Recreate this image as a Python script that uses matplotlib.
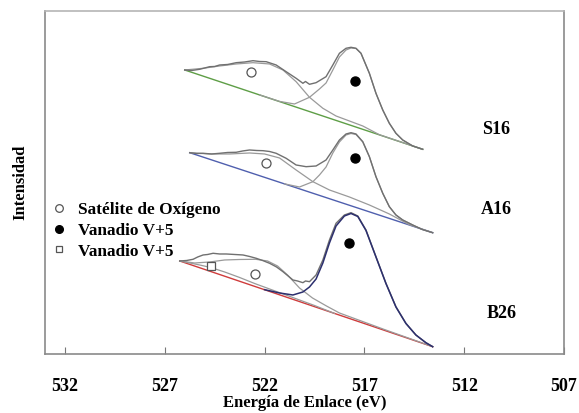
#Import
import matplotlib
matplotlib.use("Agg")
import matplotlib.pyplot as plt
from matplotlib.lines import Line2D

plt.rcParams['font.family'] = ['Liberation Serif', 'DejaVu Serif']
plt.rcParams['font.weight'] = 'bold'

# ---- S16 (top) ----
s16_exp_x = [526.00, 525.65, 525.25, 525.00, 524.75, 524.50, 524.25, 523.85, 523.42, 523.00,
             522.58, 522.25, 521.92, 521.42, 520.92, 520.42, 520.08, 519.95, 519.75, 519.42,
             518.92, 518.58, 518.25, 517.92, 517.67, 517.42, 517.17, 516.75, 516.42, 516.08,
             515.75, 515.42, 515.08, 514.58, 514.08]
s16_exp_y = [284, 283.5, 284.7, 286, 287.3, 287.5, 289, 289.5, 291.3, 292,
             293.3, 292.5, 292.3, 289, 282.3, 275.7, 270.7, 272.5, 269.7, 271.3,
             277.3, 289, 300.7, 305.7, 306.7, 305.7, 300.7, 280.7, 260.7, 244,
             230.7, 220.7, 214, 208, 204.7]
s16_sat_x = [526.00, 525.08, 524.25, 523.42, 522.58, 521.75, 521.08, 520.42, 519.75, 519.08,
             518.42, 517.75, 517.08, 516.25, 514.08]
s16_sat_y = [284, 285.7, 288, 290, 291.3, 290, 284, 272.3, 256.7, 245.7,
             238, 233, 228, 219.3, 204.7]
s16_v5_x = [522.25, 521.25, 520.50, 519.75, 519.25, 518.92, 518.58, 518.25, 517.92, 517.67,
            517.42, 517.17, 516.75, 516.42, 516.08, 515.75, 515.42, 515.08, 514.58, 514.08]
s16_v5_y = [259.1, 252.6, 250, 256.7, 265, 271, 284, 297, 304, 306,
            305.5, 300.7, 280.7, 260.7, 244, 230.7, 220.7, 214, 208, 204.7]
s16_base_x = [526.00, 514.08]
s16_base_y = [284, 204.7]

# ---- A16 (middle) ----
a16_exp_x = [525.75, 525.40, 525.08, 524.65, 524.25, 523.85, 523.42, 523.10, 522.75, 522.40,
             522.08, 521.75, 521.42, 520.92, 520.42, 519.92, 519.42, 518.92, 518.58, 518.25,
             517.92, 517.67, 517.42, 517.08, 516.75, 516.42, 516.08, 515.75, 515.42, 515.08,
             514.58, 514.10, 513.58]
a16_exp_y = [201.3, 200.5, 200.7, 200, 200.7, 201.5, 201.7, 203, 204, 203.5,
             203.3, 202.5, 200.7, 195.7, 189, 187.3, 188, 194, 204, 214,
             220, 221.3, 220, 212.3, 197.3, 177.3, 160.7, 147.3, 139, 134,
             129, 124.5, 121.3]
a16_sat_x = [525.75, 524.75, 523.75, 522.75, 522.00, 521.25, 520.42, 519.58, 518.75, 517.75,
             516.75, 515.75, 514.75, 513.58]
a16_sat_y = [201.3, 200, 200, 201, 200, 196, 184, 172.3, 164, 157,
             149, 140, 129.3, 121.3]
a16_v5_x = [521.00, 520.25, 519.58, 519.25, 518.92, 518.58, 518.25, 517.92, 517.67, 517.42,
            517.08, 516.75, 516.42, 516.08, 515.75, 515.42, 515.08, 514.58, 514.10, 513.58]
a16_v5_y = [170.1, 167, 172.3, 179, 187, 201, 212, 219, 220.5, 219.5,
            212, 197.3, 177.3, 160.7, 147.3, 139, 134, 129, 124.5, 121.3]
a16_base_x = [525.75, 513.58]
a16_base_y = [201.3, 121.3]

# ---- B26 (bottom) ----
b26_exp_x = [526.25, 525.90, 525.58, 525.35, 525.08, 524.85, 524.58, 524.25, 523.92, 523.50,
             523.08, 522.75, 522.42, 522.10, 521.75, 521.40, 521.08, 520.85, 520.58, 520.35,
             520.08, 519.95, 519.75, 519.42, 519.08, 518.75, 518.42, 518.00, 517.67, 517.33,
             516.92, 516.42, 515.92, 515.42, 514.92, 514.42, 513.92, 513.58]
b26_exp_y = [93, 93.5, 94.7, 97, 99, 99.5, 100.7, 100, 100, 99.5,
             99, 97.5, 95.7, 93.5, 90.7, 87, 82.3, 78.5, 74, 73,
             71.3, 73, 72.3, 79, 94, 114, 130.7, 139, 141.3, 138,
             124, 97.3, 70.7, 47.3, 30.7, 19, 11.3, 7.3]
b26_sq_x = [526.25, 525.75, 525.25, 524.70, 524.00, 523.25, 522.50, 521.75, 521.00, 520.25,
            519.50, 518.50]
b26_sq_y = [93, 91, 89, 86.5, 82, 76.5, 70.5, 65, 59.5, 54,
            48.5, 40.6]
b26_sat_x = [526.25, 525.50, 524.75, 524.00, 523.25, 522.45, 521.85, 521.35, 520.85, 520.25,
             519.60, 518.90, 518.25, 517.50, 516.75, 516.00, 513.58]
b26_sat_y = [93, 91, 92, 94, 94.5, 94.7, 93, 88, 79, 66,
             56, 48, 41, 35.5, 30, 24.5, 7.3]
b26_v5_x = [522.00, 521.25, 520.58, 520.08, 519.75, 519.42, 519.08, 518.75, 518.42, 518.00,
            517.67, 517.33, 516.92, 516.42, 515.92, 515.42, 514.92, 514.42, 513.92, 513.58]
b26_v5_y = [64.3, 61, 59, 62, 67, 75, 91, 111, 128, 138,
            140.5, 137.5, 123.5, 97, 70.5, 47, 30.5, 19, 11.3, 7.3]
b26_base_x = [526.25, 513.58]
b26_base_y = [93, 7.3]

# markers on the components
open_x = [522.70, 521.92, 522.50]
open_y = [282, 191.3, 80]
filled_x = [517.47, 517.48, 517.75]
filled_y = [273.3, 195.7, 111.3]
square_x = [524.70]
square_y = [88]

sample_names = ['S16', 'A16', 'B26']
sample_x = [510.40, 510.37, 510.13]
sample_y = [224, 144, 40.7]

ticks = [532, 527, 522, 517, 512, 507]
legend_labels = ['Satélite de Oxígeno', 'Vanadio V+5', 'Vanadio V+5']

exp_col = '#707070'
comp_col = '#9a9a9a'
fs = 13

fig = plt.figure(figsize=(5.79, 4.13), dpi=100)
ax = fig.add_axes([0.0777, 0.1429, 0.8964, 0.8305])

# S16
ax.plot(s16_base_x, s16_base_y, color='#5e9e46', lw=1.0)
ax.plot(s16_sat_x, s16_sat_y, color=comp_col, lw=0.9)
ax.plot(s16_v5_x, s16_v5_y, color=comp_col, lw=0.9)
ax.plot(s16_exp_x, s16_exp_y, color=exp_col, lw=1.0)

# A16
ax.plot(a16_base_x, a16_base_y, color='#4f5fae', lw=1.0)
ax.plot(a16_sat_x, a16_sat_y, color=comp_col, lw=0.9)
ax.plot(a16_v5_x, a16_v5_y, color=comp_col, lw=0.9)
ax.plot(a16_exp_x, a16_exp_y, color=exp_col, lw=1.0)

# B26
ax.plot(b26_base_x, b26_base_y, color='#cf3b3b', lw=1.0)
ax.plot(b26_sq_x, b26_sq_y, color=comp_col, lw=0.9)
ax.plot(b26_sat_x, b26_sat_y, color=comp_col, lw=0.9)
ax.plot(b26_exp_x, b26_exp_y, color=exp_col, lw=1.0)
ax.plot(b26_v5_x, b26_v5_y, color='#2c2f6e', lw=1.1)

ax.plot(open_x, open_y, 'o', ms=6.5, mfc='white', mec='#555555', mew=0.9, ls='none')
ax.plot(filled_x, filled_y, 'o', ms=6.5, mfc='black', mec='black', ls='none')
ax.plot(square_x, square_y, 's', ms=5.8, mfc='white', mec='#555555', mew=0.9, ls='none')

for name, x, y in zip(sample_names, sample_x, sample_y):
    ax.text(x, y, name, ha='center', va='center', fontsize=fs, fontweight='bold')

handles = [Line2D([], [], marker='o', ls='none', ms=5.5, mfc='white', mec='#555555', mew=0.9),
           Line2D([], [], marker='o', ls='none', ms=5.5, mfc='black', mec='black'),
           Line2D([], [], marker='s', ls='none', ms=5, mfc='white', mec='#555555', mew=0.9)]
ax.legend(handles, legend_labels, loc='upper left', bbox_to_anchor=(0.0096, 0.443),
          frameon=False, borderpad=0, borderaxespad=0, handlelength=1.04,
          handletextpad=0.57, labelspacing=0.27, prop={'size': 12.4, 'weight': 'bold'})

ax.set_xlim(533, 507)
ax.set_ylim(0, 343)
ax.set_xticks(ticks)
ax.set_xticklabels([str(t) for t in ticks])
ax.set_yticks([])
ax.tick_params(axis='x', direction='in', length=5, width=0.8, color='#777777', pad=17, labelsize=fs)
for side in ['left', 'bottom', 'right', 'top']:
    ax.spines[side].set_color('#8a8a8a')
    ax.spines[side].set_linewidth(1.2)
ax.spines['top'].set_color('#b5b5b5')

ax.set_xlabel('Energía de Enlace (eV)', fontsize=12, fontweight='bold', labelpad=0)
ax.set_ylabel('Intensidad', fontsize=12, fontweight='bold', labelpad=12)

fig.savefig('out.png', dpi=100)
